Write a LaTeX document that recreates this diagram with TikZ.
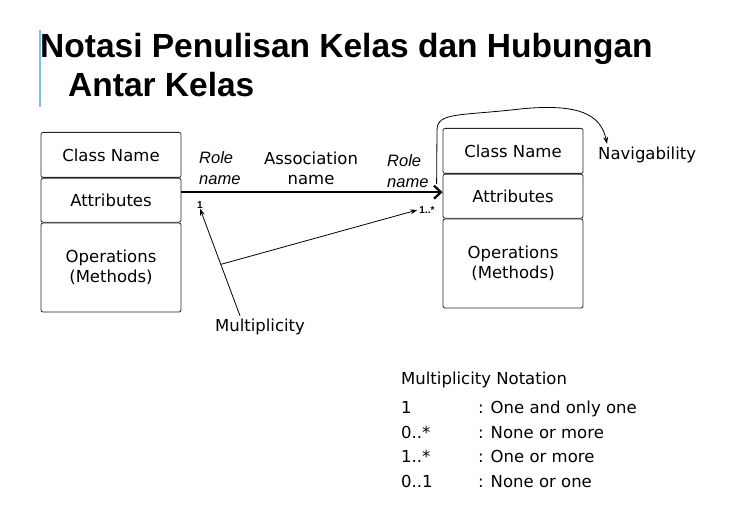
\documentclass[tikz,border=0pt]{standalone}
\usepackage{fontspec}
\setmainfont{DejaVu Sans}
\newfontfamily\arialfont{Liberation Sans}
\usetikzlibrary{positioning,arrows.meta}

\definecolor{garisbiru}{HTML}{7CC3DE}

\tikzset{
  kelas/.style={draw=black!85,line width=0.8pt,rounded corners=2pt,minimum width=140pt,
    inner sep=0pt,align=center,font=\fontsize{16.5}{20}\selectfont},
  teks/.style={inner sep=0pt,font=\fontsize{16.5}{20}\selectfont},
  peran/.style={inner sep=0pt,align=left,
    font=\arialfont\itshape\fontsize{16.5}{21}\selectfont},
  angka/.style={inner sep=0pt,font=\arialfont\bfseries\fontsize{10}{12}\selectfont},
  asosiasi/.style={line width=2.2pt,-{Straight Barb[length=7pt,width=13pt]}},
  penunjuk/.style={line width=0.8pt,-{Stealth[length=7pt,width=5pt]}}
}

\begin{document}
\begin{tikzpicture}[x=1pt,y=-1pt]
  \useasboundingbox (0,0) rectangle (739,521);

  % judul
  \draw[garisbiru,line width=1.5pt] (40,30) -- (40,107);
  \node[anchor=base west,inner sep=0pt,align=left,
    font=\arialfont\bfseries\fontsize{33.5}{39}\selectfont] (judul) at (40,97)
    {Notasi Penulisan Kelas dan Hubungan\\\hspace*{28pt}Antar Kelas};

  % kelas kiri
  \node[kelas,anchor=north,minimum height=45pt] (namaA) at (111,132) {Class Name};
  \node[kelas,below=0pt of namaA,minimum height=44pt] (atrA) {Attributes};
  \node[kelas,below=0pt of atrA,minimum height=89pt] (opA) {Operations\\(Methods)};

  % kelas kanan
  \node[kelas,anchor=north,minimum height=45pt] (namaB) at (513,128) {Class Name};
  \node[kelas,below=0pt of namaB,minimum height=44pt] (atrB) {Attributes};
  \node[kelas,below=0pt of atrB,minimum height=89pt] (opB) {Operations\\(Methods)};

  % asosiasi
  \draw[asosiasi] ([yshift=8pt]atrA.east) -- ([yshift=4pt]atrB.west);
  \node[peran,anchor=west] (peranA) at (199,168) {Role\\name};
  \node[teks,align=center] (namaAsosiasi) at (311,168) {Association\\name};
  \node[peran,anchor=west] (peranB) at (387,171) {Role\\name};
  \node[angka] (multA) at (200,205) {1};
  \node[angka] (multB) at (427,210) {1..*};

  % multiplicity
  \node[teks] (mult) at (260,327) {Multiplicity};
  \draw[penunjuk] ([xshift=-20pt,yshift=3pt]mult.north) -- coordinate[pos=0.48] (cabang) (multA.south);
  \draw[penunjuk] (cabang) -- ([xshift=-2pt]multB.west);

  % navigability
  \node[teks,anchor=west] (navi) at (598,155) {Navigability};
  \draw[penunjuk] ([xshift=-6pt,yshift=12pt]atrB.west)
    -- (437,130) .. controls (437,112) and (460,116) .. (520,109)
    .. controls (580,103) and (601,115) .. ([xshift=9pt,yshift=3pt]navi.north west);

  % notasi
  \node[teks,anchor=base west] (notasi) at (401,384) {Multiplicity Notation};
  \node[teks,anchor=base west] (n1) at (401,413) {1};
  \node[teks,anchor=base west] (k1) at (478,413) {: One and only one};
  \node[teks,anchor=base west] (n2) at (401,438) {0..*};
  \node[teks,anchor=base west] (k2) at (478,438) {: None or more};
  \node[teks,anchor=base west] (n3) at (401,462) {1..*};
  \node[teks,anchor=base west] (k3) at (478,462) {: One or more};
  \node[teks,anchor=base west] (n4) at (401,487) {0..1};
  \node[teks,anchor=base west] (k4) at (478,487) {: None or one};
\end{tikzpicture}
\end{document}
